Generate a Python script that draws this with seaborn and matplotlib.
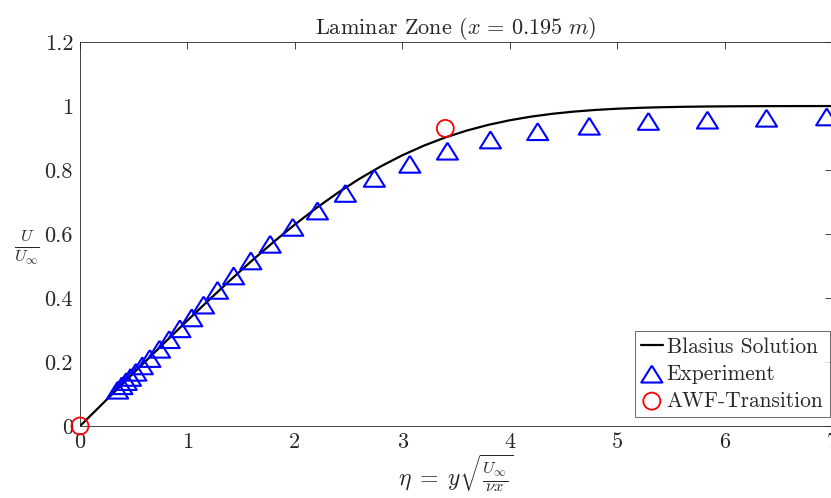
import numpy as np
import pandas as pd
import matplotlib
matplotlib.use("Agg")
import matplotlib.pyplot as plt
import seaborn as sns

# Blasius solution f'(eta) (tabulated)
blasius_eta = [0.0, 0.2, 0.4, 0.6, 0.8, 1.0, 1.2, 1.4, 1.6, 1.8, 2.0, 2.2, 2.4, 2.6, 2.8,
               3.0, 3.2, 3.4, 3.6, 3.8, 4.0, 4.2, 4.4, 4.6, 4.8, 5.0, 5.2, 5.4, 5.6, 5.8,
               6.0, 6.2, 6.4, 6.6, 6.8, 7.0]
blasius_u = [0.0, 0.06641, 0.13277, 0.19894, 0.26471, 0.32979, 0.39378, 0.45627, 0.51676,
             0.57477, 0.62977, 0.68132, 0.72899, 0.77246, 0.81152, 0.84605, 0.87609, 0.90177,
             0.92333, 0.94112, 0.95552, 0.96696, 0.97587, 0.98269, 0.98779, 0.99155, 0.99425,
             0.99616, 0.99748, 0.99838, 0.99898, 0.99937, 0.99961, 0.99977, 0.99987, 0.99992]

# Experimental points
exp_eta = [0.35, 0.39, 0.43, 0.47, 0.52, 0.58, 0.65, 0.74, 0.83, 0.93, 1.04, 1.15, 1.28,
           1.43, 1.59, 1.77, 1.98, 2.21, 2.47, 2.74, 3.07, 3.42, 3.82, 4.26, 4.74, 5.29,
           5.84, 6.39, 6.95]
exp_u = [0.112, 0.126, 0.139, 0.152, 0.168, 0.188, 0.211, 0.240, 0.270, 0.304, 0.338, 0.378,
         0.424, 0.469, 0.516, 0.568, 0.621, 0.672, 0.727, 0.774, 0.818, 0.859, 0.894, 0.920,
         0.937, 0.952, 0.956, 0.962, 0.966]

# AWF transition points
awf_eta = [0.0, 3.40]
awf_u = [0.0, 0.930]

xticks = [0, 1, 2, 3, 4, 5, 6, 7]
yticks = [0, 0.2, 0.4, 0.6, 0.8, 1.0, 1.2]
yticklabels = ["0", "0.2", "0.4", "0.6", "0.8", "1", "1.2"]

sns.set_style("white")
plt.rcParams['font.family'] = ['cmr10', 'DejaVu Serif']
plt.rcParams['mathtext.fontset'] = 'cm'
plt.rcParams['axes.unicode_minus'] = False

fig = plt.figure(figsize=(8.31, 4.98), dpi=100)
ax = fig.add_axes([0.0963, 0.1446, 0.905, 0.771])

df_b = pd.DataFrame({"eta": blasius_eta, "u": blasius_u})
df_e = pd.DataFrame({"eta": exp_eta, "u": exp_u})
df_a = pd.DataFrame({"eta": awf_eta, "u": awf_u})

sns.lineplot(data=df_b, x="eta", y="u", ax=ax, color="black", linewidth=1.6,
             label="Blasius Solution", sort=False)

tri = [(0, 0.8), (-1, -0.8), (1, -0.8), (0, 0.8)]
sns.scatterplot(data=df_e, x="eta", y="u", ax=ax, marker=tri, s=230,
                facecolors="none", edgecolor="#0000ff", linewidth=1.5,
                label="Experiment", zorder=3)
sns.scatterplot(data=df_a, x="eta", y="u", ax=ax, marker="o", s=150,
                facecolors="none", edgecolor="#ff0000", linewidth=1.3,
                label="AWF-Transition", zorder=4, clip_on=False)

ax.set_xlim(0, 7)
ax.set_ylim(0, 1.2)
ax.set_xticks(xticks)
ax.set_yticks(yticks)
ax.set_yticklabels(yticklabels)
ax.tick_params(direction="in", length=5, width=0.6, colors="#262626",
               labelsize=16, top=True, right=True, pad=5)
for lab in ax.get_xticklabels() + ax.get_yticklabels():
    lab.set_color("#262626")
for sp in ax.spines.values():
    sp.set_visible(True)
    sp.set_color("#262626")
    sp.set_linewidth(0.6)

ax.set_title(r"Laminar Zone ($x\,=\,0.195\ m$)", fontsize=16, color="#262626", pad=6)
ax.set_xlabel(r"$\eta\;=\;y\sqrt{\frac{U_\infty}{\nu x}}$", fontsize=17, color="#262626",
              labelpad=0)
ax.set_ylabel(r"$\frac{U}{U_\infty}$", fontsize=17, color="#262626", rotation=0,
              va="center", ha="center")
ax.yaxis.set_label_coords(-0.07, 0.464)

leg = ax.legend(loc="lower right", fontsize=15.4, frameon=True, fancybox=False,
                edgecolor="#262626", handlelength=1.0, handletextpad=0.2,
                borderpad=0.3, labelspacing=0.35, borderaxespad=0.0,
                bbox_to_anchor=(0.997, 0.023))
leg.get_frame().set_linewidth(0.6)

fig.savefig("out.png", dpi=100)
